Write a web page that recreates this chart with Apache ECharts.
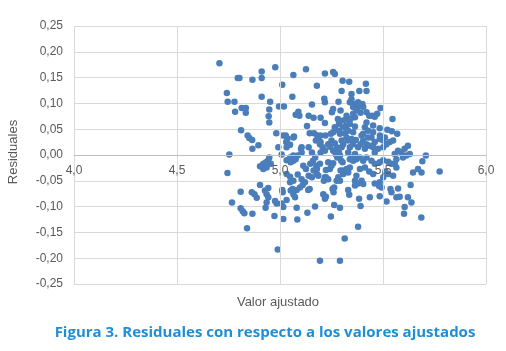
<!DOCTYPE html>
<html>
<head>
<meta charset="utf-8">
<script src="https://cdn.jsdelivr.net/npm/echarts@6/dist/echarts.min.js"></script>
<style>
  html, body { margin: 0; padding: 0; background: #fff; }
  #chart { width: 506px; height: 351px; }
</style>
</head>
<body>
<div id="chart"></div>
<script>
// valores ajustados (eje X) y residuales (eje Y)
const fittedValues = [
  4.706, 4.742, 4.746, 4.779, 4.782, 4.795, 4.803, 4.814, 4.834, 4.834,
  4.811, 4.843, 4.851, 4.865, 4.866, 4.895, 4.866, 4.911, 4.911, 4.911,
  4.952, 4.948, 4.945, 4.948, 4.977, 5.011, 4.995, 5.019, 4.982, 4.992,
  5.015, 5.028, 5.036, 5.030, 5.045, 5.068, 5.065, 5.060, 5.126, 5.179,
  5.218, 5.258, 5.266, 5.304, 5.336, 5.417, 5.347, 5.385, 5.420, 5.299,
  5.215, 5.218, 5.284, 5.155, 5.089, 5.094, 5.076, 5.139, 5.163, 5.197,
  5.218, 5.131, 5.144, 5.165, 5.181, 5.197, 5.221, 5.258, 5.252, 5.294,
  5.323, 5.281, 5.307, 5.323, 5.342, 5.364, 5.339, 5.355, 5.371, 5.395,
  5.355, 5.379, 5.400, 5.391, 5.420, 5.433, 5.460, 5.472, 5.488, 5.546,
  5.452, 5.484, 5.521, 5.543, 5.569, 5.485, 5.498, 5.509, 5.286, 5.323,
  5.339, 5.364, 5.286, 5.307, 5.331, 5.355, 4.903, 4.919, 4.932, 4.943,
  4.948, 4.935, 4.919, 4.955, 5.008, 5.032, 5.049, 5.065, 5.076, 5.086,
  5.052, 5.065, 5.102, 5.105, 5.139, 5.155, 5.171, 5.160, 5.147, 5.176,
  5.194, 5.179, 5.113, 5.126, 5.194, 5.207, 5.197, 5.218, 5.234, 5.250,
  5.266, 5.275, 5.258, 5.242, 5.283, 5.291, 5.299, 5.307, 5.234, 5.242,
  5.223, 5.218, 5.234, 5.304, 5.294, 5.307, 5.283, 5.275, 5.291, 5.339,
  5.355, 5.331, 5.347, 5.364, 5.379, 5.391, 5.404, 5.412, 5.420, 5.436,
  5.428, 5.396, 5.404, 5.331, 5.347, 5.368, 5.339, 5.355, 5.371, 5.388,
  5.404, 5.420, 5.452, 5.460, 5.476, 5.501, 5.517, 5.533, 5.549, 5.484,
  5.501, 5.460, 5.444, 5.460, 5.484, 5.501, 5.525, 5.541, 5.557, 5.573,
  5.589, 5.605, 5.621, 5.597, 5.613, 5.630, 5.565, 5.549, 5.565, 5.557,
  5.646, 5.670, 5.687, 5.708, 5.691, 5.775, 5.512, 5.525, 5.501, 5.484,
  5.481, 5.493, 5.460, 5.452, 5.433, 5.412, 5.388, 5.371, 5.364, 5.379,
  5.396, 5.404, 5.364, 5.331, 5.336, 5.384, 5.391, 5.436, 5.484, 5.536,
  5.541, 5.565, 5.581, 5.573, 5.517, 5.634, 5.621, 5.638, 5.605, 5.602,
  5.686, 5.379, 5.314, 5.194, 5.291, 4.989, 5.247, 5.291, 5.263, 5.170,
  5.133, 5.081, 5.084, 5.016, 4.973, 5.016, 5.008, 4.984, 4.976, 5.032,
  4.930, 4.935, 4.943, 4.935, 4.927, 4.943, 4.903, 4.876, 4.887, 4.863,
  4.866, 4.840, 4.809, 4.809, 4.819, 4.827, 4.767, 4.745, 4.754, 5.011,
  5.013, 5.052, 5.065, 5.073, 5.061, 5.081, 5.049, 5.065, 5.032, 5.049,
  5.086, 5.105, 5.121, 5.110, 5.137, 5.144, 5.097, 5.163, 5.179, 5.186,
  5.155, 5.139, 5.213, 5.223, 5.218, 5.223, 5.210, 5.255, 5.260, 5.263,
  5.297, 5.307, 5.323, 5.339, 5.331, 5.258, 5.250, 5.278, 5.271, 5.286,
  5.197, 5.174, 5.186, 5.032, 5.049, 5.105, 5.065, 5.355, 5.371, 5.379,
  5.404, 5.347, 5.420, 5.449, 5.444, 5.452, 5.428, 5.412, 5.323, 5.299,
  5.315, 5.291, 5.258, 5.266, 5.247
];

const residuals = [
  0.178, 0.120, 0.103, 0.103, 0.084, 0.149, 0.149, 0.091, 0.091, 0.082,
  0.048, 0.038, 0.033, 0.029, 0.012, 0.019, 0.146, 0.162, 0.149, 0.113,
  0.103, 0.088, 0.075, 0.063, 0.170, 0.136, 0.094, 0.094, 0.042, 0.015,
  0.038, 0.038, 0.032, 0.025, 0.020, 0.036, 0.155, 0.113, 0.166, 0.134,
  0.158, 0.161, 0.157, 0.144, 0.142, 0.138, 0.118, 0.124, 0.124, 0.124,
  0.109, 0.102, 0.103, 0.098, 0.084, 0.076, 0.078, 0.076, 0.072, 0.072,
  0.062, 0.056, 0.042, 0.042, 0.038, 0.038, 0.038, 0.089, 0.083, 0.086,
  0.076, 0.070, 0.067, 0.070, 0.070, 0.073, 0.102, 0.099, 0.099, 0.096,
  0.093, 0.093, 0.099, 0.082, 0.063, 0.076, 0.074, 0.080, 0.091, 0.070,
  0.057, 0.052, 0.049, 0.046, 0.041, 0.038, 0.033, 0.034, 0.060, 0.057,
  0.060, 0.055, 0.047, 0.054, 0.047, 0.044, -0.022, -0.017, -0.014, -0.010,
  -0.005, -0.024, -0.027, -0.017, 0.001, -0.010, -0.005, -0.001, -0.008, -0.001,
  -0.014, -0.011, 0.012, 0.005, 0.015, 0.005, -0.005, -0.011, -0.017, -0.021,
  -0.017, -0.027, -0.021, -0.027, 0.021, 0.015, 0.005, 0.008, 0.021, 0.028,
  0.023, 0.015, 0.008, 0.016, 0.005, -0.001, 0.015, 0.021, -0.014, -0.027,
  -0.029, -0.043, -0.047, -0.014, -0.030, -0.037, -0.043, -0.050, -0.050, 0.015,
  0.021, 0.005, -0.005, 0.002, 0.015, 0.021, 0.028, 0.012, 0.021, 0.018,
  0.034, 0.038, 0.041, 0.028, 0.031, 0.029, -0.008, -0.011, -0.008, -0.005,
  -0.011, -0.005, 0.015, 0.005, 0.012, 0.015, 0.021, 0.025, 0.028, 0.031,
  0.028, 0.025, -0.011, -0.017, -0.014, -0.010, -0.013, -0.017, 0.002, 0.008,
  0.005, 0.012, 0.018, -0.005, -0.001, 0.002, -0.008, -0.040, -0.024, -0.017,
  -0.034, -0.027, -0.034, -0.001, -0.012, -0.032, -0.032, -0.037, -0.043, -0.053,
  -0.060, -0.063, -0.055, -0.037, -0.032, -0.024, -0.027, -0.040, -0.050, -0.055,
  -0.050, -0.056, -0.059, -0.068, -0.077, -0.085, -0.099, -0.082, -0.080, -0.066,
  -0.072, -0.082, -0.081, -0.065, -0.090, -0.058, -0.082, -0.092, -0.101, -0.114,
  -0.121, -0.139, -0.162, -0.205, -0.205, -0.183, -0.119, -0.102, -0.097, -0.100,
  -0.112, -0.102, -0.125, -0.124, -0.118, -0.101, -0.094, -0.094, -0.089, -0.087,
  -0.102, -0.092, -0.082, -0.076, -0.069, -0.064, -0.058, -0.076, -0.083, -0.072,
  -0.114, -0.142, -0.071, -0.103, -0.109, -0.113, -0.092, -0.035, 0.001, -0.068,
  -0.072, -0.069, -0.076, -0.082, -0.066, -0.068, -0.053, -0.050, -0.037, -0.042,
  -0.038, -0.047, -0.053, -0.058, -0.068, -0.066, -0.063, -0.030, -0.037, -0.040,
  -0.043, -0.040, -0.050, -0.043, -0.085, -0.081, -0.076, -0.066, -0.072, -0.063,
  -0.011, -0.030, -0.027, -0.024, -0.034, -0.016, -0.021, -0.005, 0.001, 0.005,
  0.025, 0.028, 0.034, 0.015, 0.020, 0.015, 0.034, 0.080, 0.086, 0.102,
  0.093, 0.108, 0.083, 0.076, 0.034, 0.044, 0.047, 0.054, 0.034, 0.028,
  0.042, 0.041, 0.044, 0.054, 0.041
];

// escalas de los ejes
const xRange = [4.0, 6.0, 0.5];
const yRange = [-0.25, 0.25, 0.05];

const points = fittedValues.map((x, i) => [x, residuals[i]]);

const labelFont = 'Liberation Sans, Arial, sans-serif';

// la rejilla es simétrica en Y (-0,25..0,25): el eje X se sube a la mitad
const gridTop = 26;
const gridBottom = 67;
const gridHeight = 351 - gridTop - gridBottom;

const chart = echarts.init(document.getElementById('chart'), null, { renderer: 'canvas' });

chart.setOption({
  animation: false,
  grid: { left: 74, right: 20, top: gridTop, bottom: gridBottom },
  xAxis: {
    type: 'value',
    z: 5,
    min: xRange[0],
    max: xRange[1],
    interval: xRange[2],
    offset: -gridHeight / 2,
    axisLine: { onZero: false, lineStyle: { color: '#bfbfbf', width: 1 } },
    axisTick: { show: false },
    axisLabel: {
      margin: 10,
      color: '#595959',
      fontSize: 12,
      fontFamily: labelFont,
      formatter: v => v.toFixed(1).replace('.', ',')
    },
    splitLine: { show: true, lineStyle: { color: '#d9d9d9', width: 1 } }
  },
  yAxis: {
    type: 'value',
    min: yRange[0],
    max: yRange[1],
    interval: yRange[2],
    axisLine: { show: false },
    axisTick: { show: false },
    axisLabel: {
      margin: 11,
      color: '#595959',
      fontSize: 12,
      fontFamily: labelFont,
      formatter: v => v.toFixed(2).replace('.', ',')
    },
    splitLine: { show: true, lineStyle: { color: '#d9d9d9', width: 1 } }
  },
  graphic: [
    {
      type: 'text',
      x: 13,
      y: 152,
      rotation: Math.PI / 2,
      style: {
        text: 'Residuales',
        fill: '#595959',
        font: '13px ' + labelFont,
        align: 'center',
        verticalAlign: 'middle'
      }
    },
    {
      type: 'text',
      x: 278,
      y: 302,
      style: {
        text: 'Valor ajustado',
        fill: '#595959',
        font: '13px ' + labelFont,
        align: 'center',
        verticalAlign: 'middle'
      }
    },
    {
      type: 'text',
      x: 265,
      y: 333,
      style: {
        text: 'Figura 3. Residuales con respecto a los valores ajustados',
        fill: '#1e8ed6',
        font: 'bold 15px "Liberation Sans Narrow", "Open Sans", sans-serif',
        align: 'center',
        verticalAlign: 'middle'
      }
    }
  ],
  series: [
    {
      type: 'scatter',
      z: 2,
      data: points,
      symbolSize: 6.5,
      itemStyle: { color: '#4a7ebb', opacity: 1 }
    }
  ]
});
</script>
</body>
</html>
